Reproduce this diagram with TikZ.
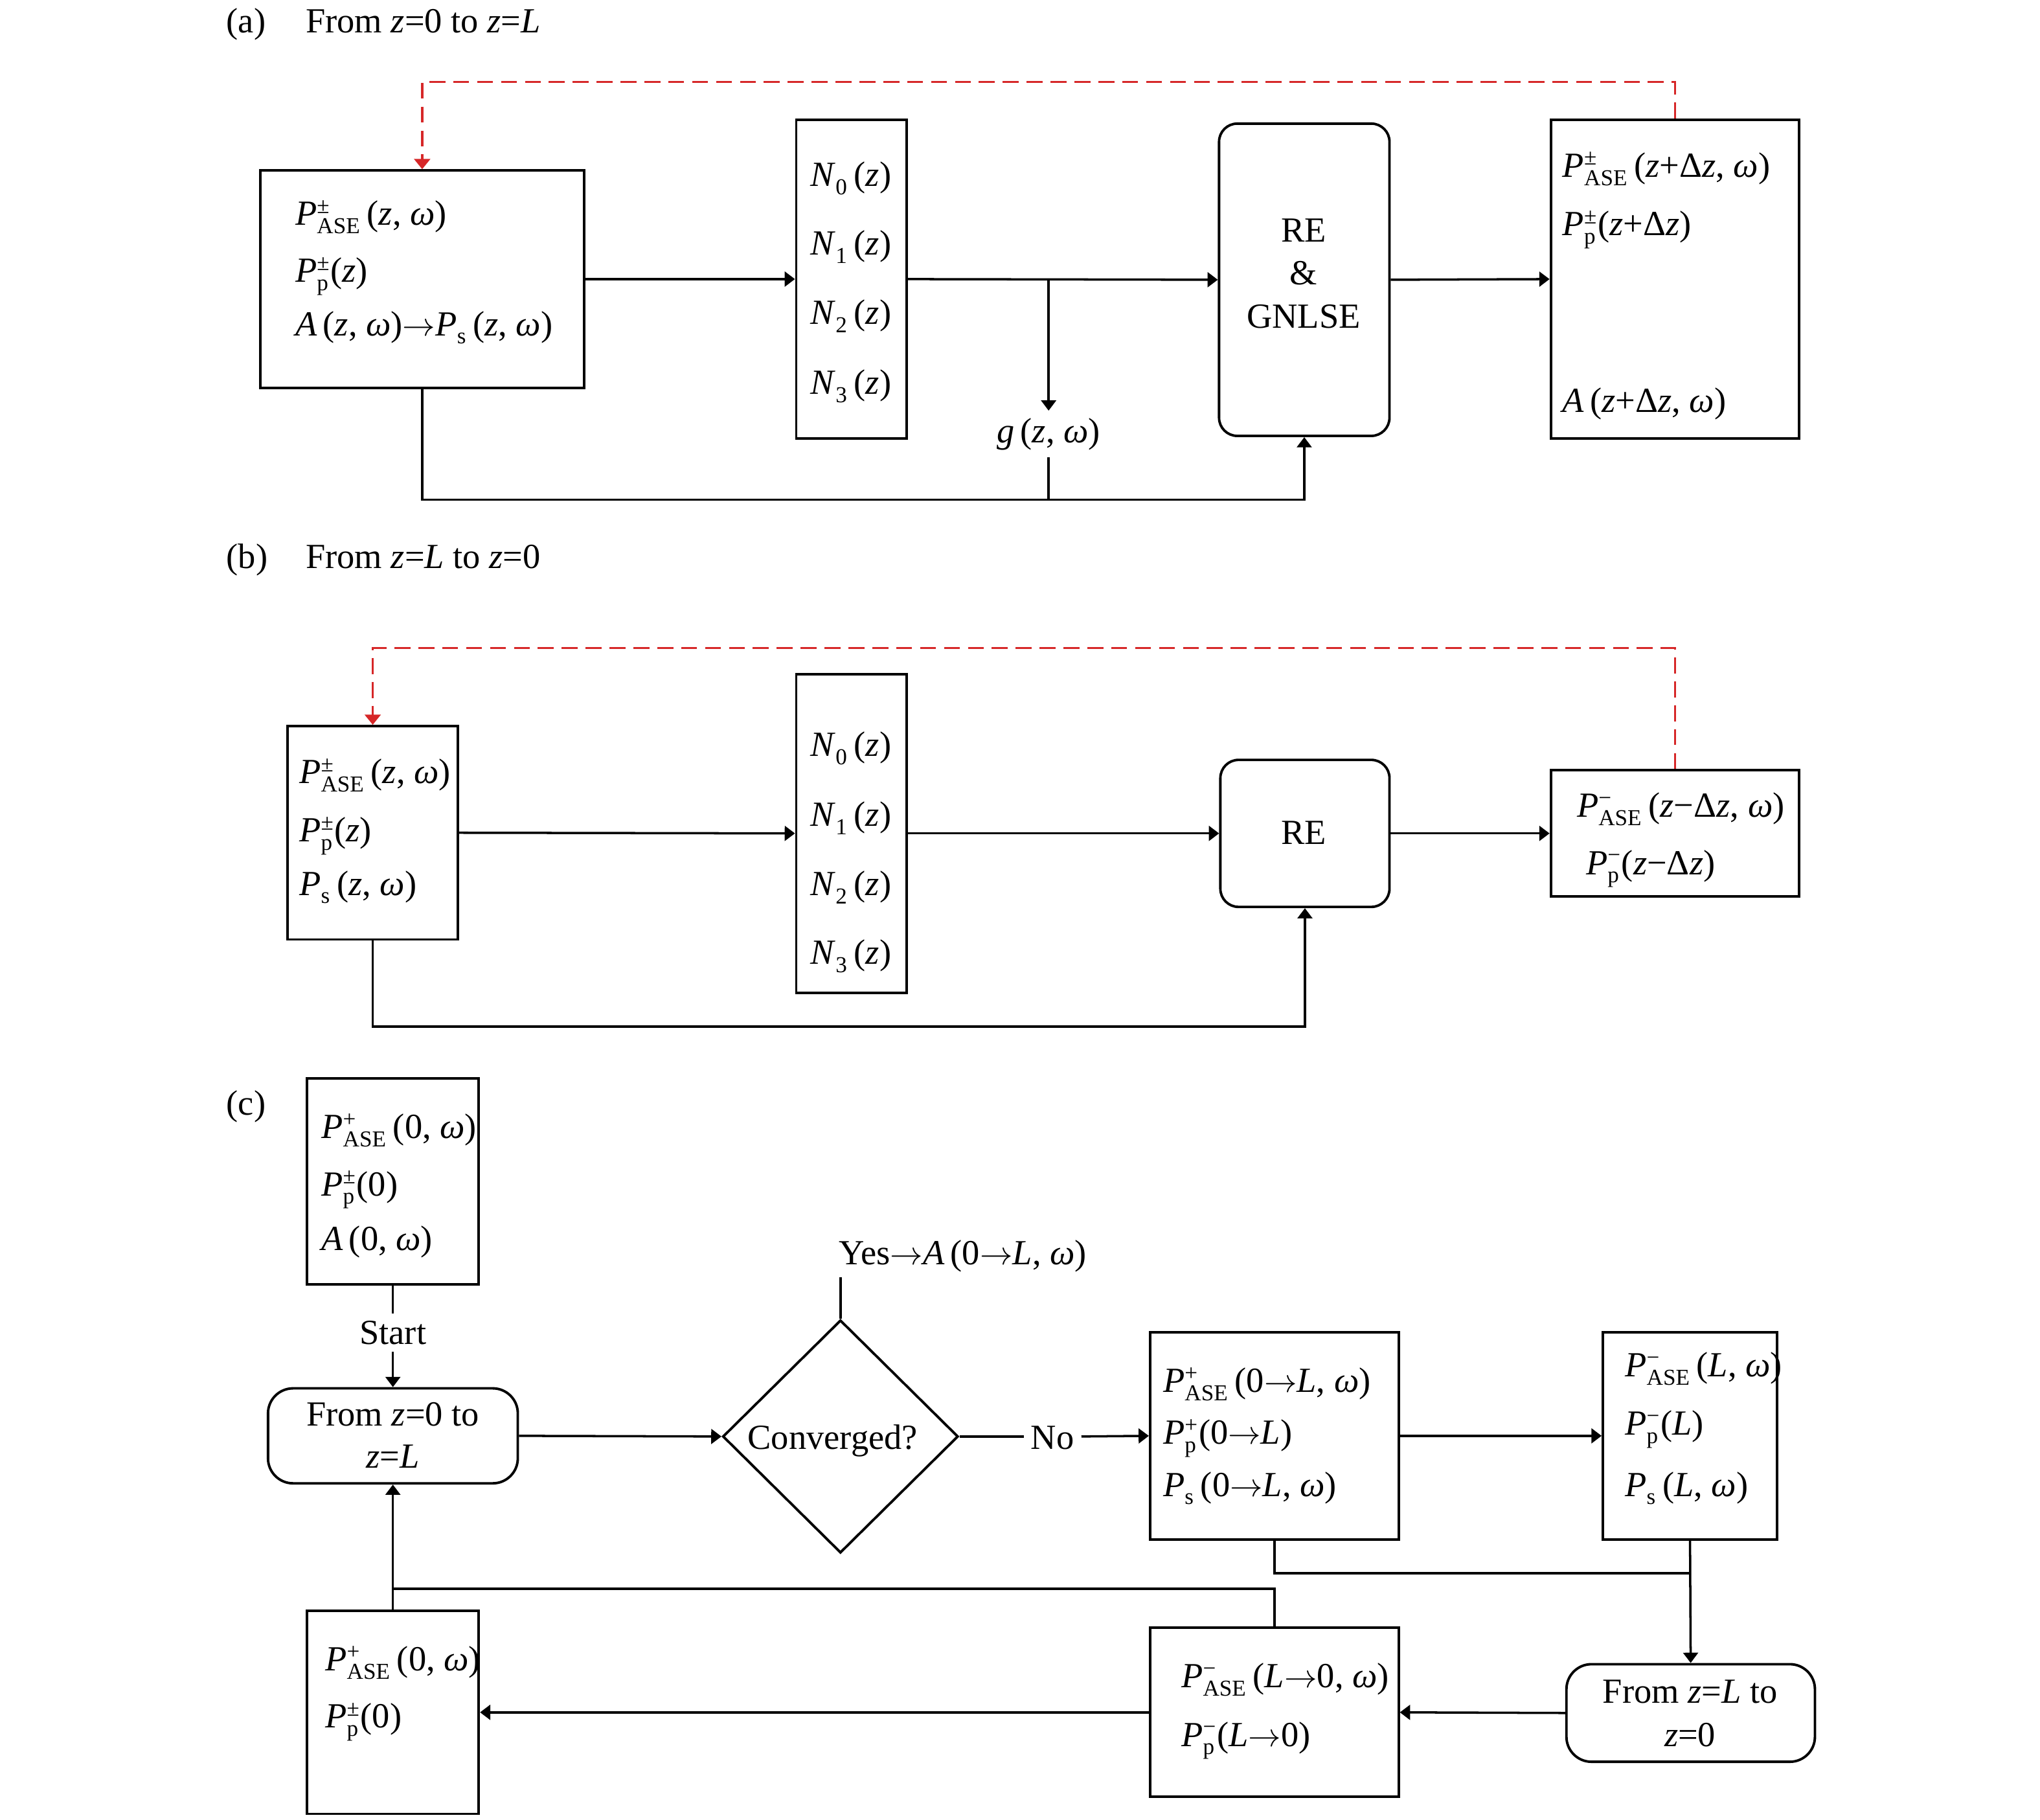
\documentclass[tikz,border=0pt]{standalone}
\usepackage{amsmath}
\usepackage{fontspec}
\setmainfont{Liberation Serif}
\usetikzlibrary{arrows.meta,fit,shapes.geometric}
\DeclareMathSizes{15.5}{15.5}{10}{7}
\definecolor{dashred}{RGB}{214,39,40}
\newcommand{\SupSub}[2]{\ensuremath{^{\text{#1}}_{\text{#2}}}}
\newcommand{\Pv}[2]{\textit{P}\SupSub{#1}{#2}}
\newcommand{\Nv}[1]{\textit{N}\SupSub{}{#1}\,(\textit{z})}
\newcommand{\ra}{\ensuremath{\mathord{\rightarrow}}}
\begin{document}
\begin{tikzpicture}[x=0.020089cm, y=-0.020089cm,
  every node/.style={font=\fontsize{15.5}{18}\selectfont},
  box/.style={draw, line width=1.1pt, inner sep=0pt},
  rbox/.style={box, rounded corners=8pt},
  rrbox/.style={box, rounded corners=11pt},
  txt/.style={inner sep=1pt, anchor=base west},
  ctxt/.style={inner sep=1pt, anchor=base},
  conn/.style={line width=1pt},
  arr/.style={conn, -{Triangle[length=4.5pt,width=6.5pt]}},
  fb/.style={line width=1pt, draw=dashred, dash pattern=on 7pt off 3.5pt},
  fbarr/.style={fb, -{Triangle[length=4.5pt,width=7pt]}}
]
\useasboundingbox (0,0) rectangle (1568,1398.3);

% ---------------- (a) ----------------
\node[txt] (la) at (172,25) {(a)};
\node[txt] (ta) at (233,25) {From \textit{z}=0 to \textit{z}=\textit{L}};
\node[box, fit={(200,131) (449,298)}] (a1) {};
\node[txt] (a1t1) at (225,173) {\Pv{±}{ASE}\,(\textit{z}, \textit{ω})};
\node[txt] (a1t2) at (225,217) {\Pv{±}{p}(\textit{z})};
\node[txt] (a1t3) at (225,258) {\textit{A}\,(\textit{z}, \textit{ω})\ra\Pv{}{s}\,(\textit{z}, \textit{ω})};
\node[box, fit={(612,92) (697,337)}] (a2) {};
\node[ctxt] (a2t0) at (654,143) {\Nv{0}};
\node[ctxt] (a2t1) at (654,196) {\Nv{1}};
\node[ctxt] (a2t2) at (654,249) {\Nv{2}};
\node[ctxt] (a2t3) at (654,303) {\Nv{3}};
\node[rbox, fit={(937,95) (1068,335)}] (a3) {};
\node[ctxt] (a3t1) at (1002,186) {RE};
\node[ctxt] (a3t2) at (1002,219) {\&};
\node[ctxt] (a3t3) at (1002,252) {GNLSE};
\node[box, fit={(1192,92) (1383,337)}] (a4) {};
\node[txt] (a4t1) at (1199,136) {\Pv{±}{ASE}\,(\textit{z}+Δ\textit{z}, \textit{ω})};
\node[txt] (a4t2) at (1199,181) {\Pv{±}{p}(\textit{z}+Δ\textit{z})};
\node[txt] (a4t3) at (1199,317) {\textit{A}\,(\textit{z}+Δ\textit{z}, \textit{ω})};
\node[ctxt, inner sep=3pt] (g) at (806,340) {\textit{g}\,(\textit{z}, \textit{ω})};
\coordinate (fba) at (0,384);
\coordinate (rda) at (0,63);

\draw[arr] (a1.east) -- (a2.west);
\draw[arr] (a2.east) -- (a3.west);
\draw[arr] (a3.east) -- (a4.west);
\draw[arr] (g.north |- a2.east) -- (g.north);
\draw[conn] (g.south) -- (g.south |- fba);
\draw[arr] (a1.south) -- (a1.south |- fba) -- (a3.south |- fba) -- (a3.south);
\draw[fbarr] (a4.north) -- (a4.north |- rda) -- (a1.north |- rda) -- (a1.north);

% ---------------- (b) ----------------
\node[txt] (lb) at (172,437) {(b)};
\node[txt] (tb) at (233,437) {From \textit{z}=\textit{L} to \textit{z}=0};
\node[box, fit={(221,558) (352,722)}] (b1) {};
\node[txt] (b1t1) at (228,602) {\Pv{±}{ASE}\,(\textit{z}, \textit{ω})};
\node[txt] (b1t2) at (228,647) {\Pv{±}{p}(\textit{z})};
\node[txt] (b1t3) at (228,688) {\Pv{}{s}\,(\textit{z}, \textit{ω})};
\node[box, fit={(612,518) (697,763)}] (b2) {};
\node[ctxt] (b2t0) at (654,581) {\Nv{0}};
\node[ctxt] (b2t1) at (654,635) {\Nv{1}};
\node[ctxt] (b2t2) at (654,688) {\Nv{2}};
\node[ctxt] (b2t3) at (654,741) {\Nv{3}};
\node[rbox, fit={(938,584) (1068,697)}] (b3) {};
\node[ctxt] (b3t) at (1002,649) {RE};
\node[box, fit={(1192,592) (1383,689)}] (b4) {};
\node[txt] (b4t1) at (1210,628) {\Pv{−}{ASE}\,(\textit{z}−Δ\textit{z}, \textit{ω})};
\node[txt] (b4t2) at (1217,672) {\Pv{−}{p}(\textit{z}−Δ\textit{z})};
\coordinate (fbb) at (0,789);
\coordinate (rdb) at (0,498);

\draw[arr] (b1.east) -- (b2.west);
\draw[arr] (b2.east) -- (b3.west);
\draw[arr] (b3.east) -- (b4.west);
\draw[arr] (b1.south) -- (b1.south |- fbb) -- (b3.south |- fbb) -- (b3.south);
\draw[fbarr] (b4.north) -- (b4.north |- rdb) -- (b1.north |- rdb) -- (b1.north);

% ---------------- (c) ----------------
\node[txt] (lc) at (172,857) {(c)};
\node[box, fit={(236,829) (368,987)}] (c1) {};
\node[txt] (c1t1) at (245,875) {\Pv{+}{ASE}\,(0, \textit{ω})};
\node[txt] (c1t2) at (245,919) {\Pv{±}{p}(0)};
\node[txt] (c1t3) at (245,961) {\textit{A}\,(0, \textit{ω})};
\node[ctxt, inner sep=3pt] (start) at (302,1033) {Start};
\node[rrbox, fit={(206,1067) (398,1140)}] (c2) {};
\node[ctxt] (c2t1) at (302,1096) {From \textit{z}=0 to};
\node[ctxt] (c2t2) at (302,1128) {\textit{z}=\textit{L}};
\node[draw, diamond, line width=1.1pt, inner sep=0pt, minimum width={181*0.020089cm}, minimum height={179*0.020089cm}] (dm) at (646,1104) {};
\node[ctxt] (dmt) at (640,1114) {Converged?};
\node[txt, inner sep=2pt] (yes) at (641,972) {Yes\ra\textit{A}\,(0\ra\textit{L}, \textit{ω})};
\node[ctxt, inner sep=3pt] (no) at (809,1114) {No};
\node[box, fit={(884,1024) (1075,1183)}] (c3) {};
\node[txt] (c3t1) at (892,1070) {\Pv{+}{ASE}\,(0\ra\textit{L}, \textit{ω})};
\node[txt] (c3t2) at (892,1110) {\Pv{+}{p}(0\ra\textit{L})};
\node[txt] (c3t3) at (892,1150) {\Pv{}{s}\,(0\ra\textit{L}, \textit{ω})};
\node[box, fit={(1232,1024) (1366,1183)}] (c4) {};
\node[txt] (c4t1) at (1247,1058) {\Pv{−}{ASE}\,(\textit{L}, \textit{ω})};
\node[txt] (c4t2) at (1247,1103) {\Pv{−}{p}(\textit{L})};
\node[txt] (c4t3) at (1247,1150) {\Pv{}{s}\,(\textit{L}, \textit{ω})};
\node[rrbox, fit={(1204,1279) (1395,1354)}] (c5) {};
\node[ctxt] (c5t1) at (1299,1309) {From \textit{z}=\textit{L} to};
\node[ctxt] (c5t2) at (1299,1342) {\textit{z}=0};
\node[box, fit={(884,1251) (1075,1381)}] (c6) {};
\node[txt] (c6t1) at (906,1297) {\Pv{−}{ASE}\,(\textit{L}\ra0, \textit{ω})};
\node[txt] (c6t2) at (906,1342) {\Pv{−}{p}(\textit{L}\ra0)};
\node[box, fit={(236,1238) (368,1394)}] (c7) {};
\node[txt] (c7t1) at (248,1284) {\Pv{+}{ASE}\,(0, \textit{ω})};
\node[txt] (c7t2) at (248,1328) {\Pv{±}{p}(0)};
\coordinate (j1) at (0,1209);
\coordinate (j2) at (0,1221);

\draw[conn] (c1.south) -- (start.north);
\draw[arr] (start.south) -- (c2.north);
\draw[arr] (c2.east) -- (dm.west);
\draw[conn] (dm.north) -- (dm.north |- yes.south);
\draw[conn] (dm.east) -- (no.west |- dm.east);
\draw[arr] (no.east |- dm.east) -- (c3.west);
\draw[arr] (c3.east) -- (c4.west);
\draw[conn] (c3.south) -- (c3.south |- j1) -- (c4.south |- j1);
\draw[arr] (c4.south) -- (c5.north);
\draw[arr] (c5.west) -- (c6.east);
\draw[arr] (c6.west) -- (c7.east);
\draw[conn] (c6.north) -- (c6.north |- j2) -- (c7.north |- j2);
\draw[arr] (c7.north) -- (c2.south);
\end{tikzpicture}
\end{document}
